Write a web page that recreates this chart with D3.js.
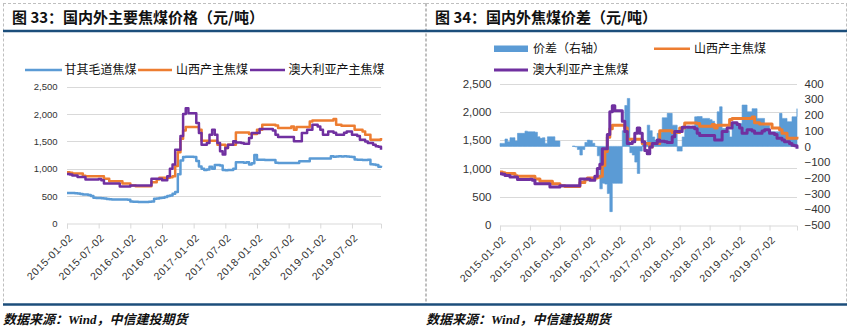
<!DOCTYPE html>
<html>
<head>
<meta charset="utf-8">
<script src="https://cdn.jsdelivr.net/npm/d3@7/dist/d3.min.js"></script>
<style>
  body { margin: 0; background: #fff; }
  svg { display: block; }
</style>
</head>
<body>
<div id="chart"></div>
<script>
// x axis: half-monthly points from 2015-01-02 (index 0) to 2019-12 (index 119)
const tickLabels = ['2015-01-02', '2015-07-02', '2016-01-02', '2016-07-02', '2017-01-02',
                    '2017-07-02', '2018-01-02', '2018-07-02', '2019-01-02', '2019-07-02'];
const tickIndex = [0, 12, 24, 36, 48, 60, 72, 84, 96, 108];
const LAST = 119;

const seriesNames = ['甘其毛道焦煤', '山西产主焦煤', '澳大利亚产主焦煤'];

// 甘其毛道焦煤 (元/吨)
const ganqimaodao = [
  555, 553, 553, 550, 545, 535, 528, 526, 520, 500, 466, 462,
  462, 460, 455, 445, 440, 437, 437, 436, 435, 435, 435, 430,
  400, 395, 395, 392, 392, 392, 392, 395, 398, 450, 455, 462,
  470, 480, 498, 510, 540, 575, 900, 1150, 1215, 1220, 1220, 1220,
  1215, 1140, 1040, 1000, 975, 985, 1035, 1000, 1068, 1070, 1060, 975,
  970, 975, 975, 1000, 1117, 1117, 1117, 1110, 1117, 1075, 1100, 1250,
  1165, 1165, 1165, 1160, 1160, 1160, 1160, 1110, 1106, 1106, 1106, 1106,
  1106, 1106, 1106, 1106, 1136, 1136, 1136, 1136, 1185, 1185, 1185, 1185,
  1185, 1185, 1185, 1185, 1227, 1220, 1225, 1227, 1222, 1227, 1225, 1220,
  1215, 1170, 1165, 1165, 1160, 1160, 1165, 1080, 1075, 1070, 1035, 1055
];

// 山西产主焦煤 (元/吨)
const shanxi = [
  935, 925, 911, 911, 911, 911, 870, 863, 863, 863, 863, 863,
  863, 863, 814, 814, 772, 772, 772, 772, 772, 729, 729, 729,
  693, 693, 680, 680, 680, 680, 680, 680, 753, 753, 800, 832,
  832, 832, 832, 845, 863, 1050, 1300, 1550, 1700, 1762, 1762, 1762,
  1762, 1762, 1713, 1513, 1513, 1513, 1513, 1513, 1513, 1440, 1440, 1440,
  1379, 1440, 1440, 1440, 1665, 1665, 1665, 1665, 1665, 1634, 1634, 1634,
  1713, 1713, 1804, 1804, 1804, 1804, 1804, 1792, 1744, 1744, 1744, 1744,
  1744, 1774, 1713, 1762, 1762, 1762, 1762, 1762, 1865, 1883, 1883, 1883,
  1883, 1883, 1883, 1883, 1883, 1908, 1805, 1805, 1786, 1786, 1786, 1786,
  1786, 1713, 1713, 1713, 1683, 1622, 1622, 1531, 1531, 1531, 1531, 1561
];

// 澳大利亚产主焦煤 (元/吨)
const australia = [
  905, 895, 875, 875, 850, 850, 850, 802, 802, 802, 802, 802,
  810, 790, 729, 729, 729, 729, 729, 729, 672, 672, 672, 672,
  693, 693, 693, 693, 693, 693, 693, 693, 814, 814, 814, 814,
  790, 790, 863, 1000, 1075, 1349, 1349, 1600, 2000, 2108, 2017, 2017,
  2017, 1835, 1652, 1440, 1440, 1470, 1620, 1713, 1622, 1470, 1318, 1258,
  1379, 1440, 1440, 1501, 1480, 1480, 1470, 1458, 1458, 1561, 1652, 1652,
  1652, 1726, 1726, 1726, 1726, 1726, 1700, 1622, 1580, 1580, 1580, 1580,
  1580, 1580, 1501, 1501, 1501, 1652, 1652, 1713, 1713, 1805, 1805, 1774,
  1713, 1622, 1622, 1683, 1683, 1660, 1622, 1622, 1622, 1660, 1683, 1683,
  1622, 1622, 1600, 1531, 1531, 1500, 1470, 1470, 1440, 1410, 1400, 1349
];

// 价差 (右轴, 元/吨), null = no data
const spread = [
  19, 19, 47, 30, 55, 55, 35, 83, 83, 83, 97, 93,
  93, 93, 90, 61, 51, 55, 19, 61, 61, 61, 34, 34,
  34, null, null, null, null, 2, -3, -20, -55, -20, 25, 40,
  38, 20, 0, -60, -270, -235, -240, -300, -415, -235, -235, -235,
  -235, 100, 260, 305, -40, -55, -100, -172, -30, 10, 20, 135,
  100, 60, 40, 83, 90, 182, 182, 210, 210, 135, 135, -30,
  -30, 60, 110, 130, 120, 130, 188, 190, 190, 178, 178, 178,
  170, 160, 114, 220, 252, 114, 114, 100, 60, 146, 146, 146,
  146, 263, 263, 220, 220, 240, 240, 178, 178, 178, 135, 135,
  93, 93, 93, 93, 210, 178, 178, 157, 157, 188, 188, 240
];

const leftTicks = [0, 500, 1000, 1500, 2000, 2500];
const rightTicks = [-500, -400, -300, -200, -100, 0, 100, 200, 300, 400];

const COLOR = {blue: '#5B9BD5', orange: '#ED7D31', purple: '#7030A0'};
const GRID = '#D9D9D9';
const RULE = '#1C4E7B';
const TEXT = '#333333';
const CN = '"Noto Sans CJK SC", sans-serif';
const NUM = '"Liberation Sans", Arial, sans-serif';

const svg = d3.select('#chart')
  .append('svg')
    .attr('width', 852)
    .attr('height', 328);

/// Panel frame: dashed border, title, blue rules, source line
function buildFrame(x0, x1, title, titleX) {
  const g = svg.append('g');
  g.append('line')
    .attr('x1', x0 + 0.5).attr('x2', x0 + 0.5).attr('y1', 3.5).attr('y2', 304)
    .attr('stroke', '#BFBFBF').attr('stroke-dasharray', '3,2');
  g.append('line')
    .attr('x1', x1 - 0.5).attr('x2', x1 - 0.5).attr('y1', 3.5).attr('y2', 304)
    .attr('stroke', '#BFBFBF').attr('stroke-dasharray', '3,2');
  g.append('line')
    .attr('x1', x0).attr('x2', x1).attr('y1', 3.5).attr('y2', 3.5)
    .attr('stroke', '#BFBFBF').attr('stroke-dasharray', '3,2');

  g.append('line')
    .attr('x1', x0).attr('x2', x1).attr('y1', 31).attr('y2', 31)
    .attr('stroke', RULE).attr('stroke-width', 2.5);
  g.append('line')
    .attr('x1', x0).attr('x2', x1).attr('y1', 304.5).attr('y2', 304.5)
    .attr('stroke', RULE).attr('stroke-width', 2.5);

  g.append('text')
    .attr('x', titleX).attr('y', 22.5)
    .style('font-family', CN).style('font-size', '15px').style('font-weight', 'bold')
    .attr('fill', '#111')
    .text(title);

  g.append('text')
    .attr('x', x0).attr('y', 323.5)
    .style('font-family', '"Liberation Serif", "Noto Sans CJK SC", serif')
    .style('font-size', '13px').style('font-weight', 'bold').style('font-style', 'italic')
    .attr('fill', '#111')
    .text('数据来源：Wind，中信建投期货');
}

/// Plot area: grid, left axis, date axis. Returns scales
function buildPlot(box, fontSize) {
  const x = d3.scaleLinear().domain([0, LAST]).range([box.left, box.right]);
  const y = d3.scaleLinear().domain([0, 2500]).range([box.bottom, box.top]);

  svg.append('g').selectAll('line')
    .data(leftTicks.slice(1))
    .join('line')
      .attr('x1', box.left).attr('x2', box.right)
      .attr('y1', d => Math.round(y(d)) + 0.5).attr('y2', d => Math.round(y(d)) + 0.5)
      .attr('stroke', GRID);

  svg.append('g')
    .attr('transform', `translate(${box.left},0)`)
    .call(d3.axisLeft(y).tickValues(leftTicks).tickSize(0)
      .tickPadding(box.left - box.labelX).tickFormat(d3.format(',')))
    .call(a => a.select('.domain').remove())
    .call(a => a.selectAll('text')
      .attr('fill', TEXT).style('font-family', NUM).style('font-size', fontSize + 'px'));

  const xAxis = svg.append('g')
    .attr('transform', `translate(0,${Math.round(box.bottom) + 0.5})`)
    .call(d3.axisBottom(x).tickValues(tickIndex).tickSizeOuter(0).tickSize(5)
      .tickFormat((d, i) => tickLabels[i]));
  xAxis.select('.domain').attr('stroke', GRID);
  xAxis.selectAll('.tick line').attr('stroke', GRID);
  xAxis.selectAll('text')
    .attr('x', 0).attr('y', 0).attr('dy', 0)
    .attr('transform', 'translate(6,15) rotate(-45)')
    .style('text-anchor', 'end')
    .style('font-family', NUM).style('font-size', '10.5px').style('letter-spacing', '0.6px')
    .attr('fill', TEXT);

  return {x, y};
}

function drawLine(x, y, data, color, width) {
  const line = d3.line()
    .defined(d => d != null)
    .curve(d3.curveStepAfter)
    .x((d, i) => x(i))
    .y(d => y(d));
  svg.append('path')
    .datum(data)
    .attr('d', line)
    .attr('fill', 'none')
    .attr('stroke', color)
    .attr('stroke-width', width)
    .attr('stroke-linejoin', 'round');
}

function legendLine(x1, x2, y, color, width, label, textX) {
  svg.append('line')
    .attr('x1', x1).attr('x2', x2).attr('y1', y).attr('y2', y)
    .attr('stroke', color).attr('stroke-width', width);
  svg.append('text')
    .attr('x', textX).attr('y', y).attr('dy', '0.36em')
    .style('font-family', CN).style('font-size', '12px')
    .attr('fill', '#111')
    .text(label);
}

// ---------- Left panel: 图33 ----------
buildFrame(3, 426, '图 33：国内外主要焦煤价格（元/吨）', 12);
const L = buildPlot({left: 67, right: 381, top: 86.8, bottom: 223.3, labelX: 57.5}, 9.5);
drawLine(L.x, L.y, ganqimaodao, COLOR.blue, 2.5);
drawLine(L.x, L.y, shanxi, COLOR.orange, 2.5);
drawLine(L.x, L.y, australia, COLOR.purple, 2.5);

legendLine(25, 62, 70, COLOR.blue, 2.5, seriesNames[0], 64.5);
legendLine(138, 172, 70, COLOR.orange, 2.5, seriesNames[1], 176);
legendLine(250, 285, 70, COLOR.purple, 2.5, seriesNames[2], 288.5);

// ---------- Right panel: 图34 ----------
buildFrame(426, 847, '图 34：国内外焦煤价差（元/吨）', 435);
const R = buildPlot({left: 500, right: 797, top: 83.5, bottom: 225, labelX: 491.5}, 11.5);
const yR = d3.scaleLinear().domain([-500, 400]).range([225, 83.5]);

svg.append('g')
  .attr('transform', 'translate(797,0)')
  .call(d3.axisRight(yR).tickValues(rightTicks).tickSize(0).tickPadding(7.5))
  .call(a => a.select('.domain').remove())
  .call(a => a.selectAll('text')
    .attr('fill', TEXT).style('font-family', NUM).style('font-size', '11.5px'));

// spread (right axis), drawn as a filled step area around zero
const spreadArea = d3.area()
  .defined(d => d != null)
  .curve(d3.curveStepAfter)
  .x((d, i) => R.x(i))
  .y0(yR(0))
  .y1(d => yR(d));
svg.append('path')
  .datum(spread)
  .attr('d', spreadArea)
  .attr('fill', COLOR.blue)
  .attr('stroke', COLOR.blue)
  .attr('stroke-width', 0.6);

drawLine(R.x, R.y, shanxi, COLOR.orange, 3);
drawLine(R.x, R.y, australia, COLOR.purple, 3);

svg.append('rect')
  .attr('x', 494).attr('y', 45.5).attr('width', 34).attr('height', 6.5)
  .attr('fill', COLOR.blue);
svg.append('text')
  .attr('x', 533).attr('y', 48.7).attr('dy', '0.36em')
  .style('font-family', CN).style('font-size', '12px').attr('fill', '#111')
  .text('价差（右轴）');
legendLine(654, 690, 48.7, COLOR.orange, 2.5, seriesNames[1], 694);
legendLine(494, 528, 70, COLOR.purple, 3, seriesNames[2], 532.5);
</script>
</body>
</html>
